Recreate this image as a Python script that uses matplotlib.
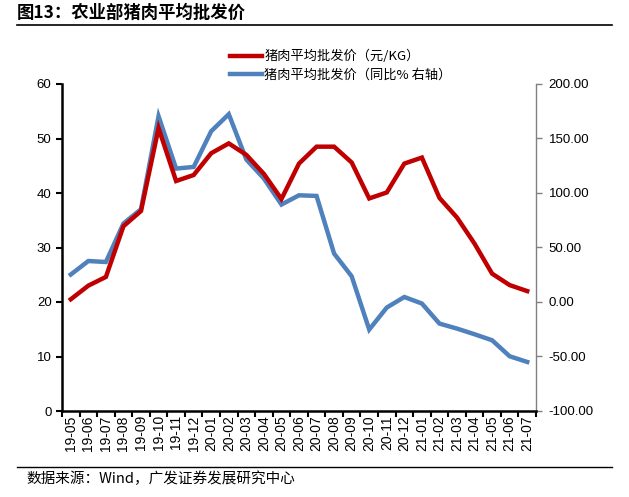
import matplotlib
matplotlib.use('Agg')
import matplotlib.pyplot as plt
from matplotlib.lines import Line2D

plt.rcParams['font.family'] = ['Liberation Sans', 'Noto Sans CJK SC', 'DejaVu Sans']

# ── Data ────────────────────────────────────────────────────────────────────
months = ['19-05', '19-06', '19-07', '19-08', '19-09', '19-10', '19-11', '19-12',
          '20-01', '20-02', '20-03', '20-04', '20-05', '20-06', '20-07', '20-08',
          '20-09', '20-10', '20-11', '20-12', '21-01', '21-02', '21-03', '21-04',
          '21-05', '21-06', '21-07']
price = [20.5, 23.0, 24.6, 33.9, 36.7, 51.9, 42.2, 43.3, 47.3, 49.1, 47.0, 43.5,
         38.9, 45.4, 48.5, 48.5, 45.6, 39.0, 40.1, 45.4, 46.5, 39.1, 35.5, 30.7,
         25.2, 23.1, 22.0]
yoy = [25.2, 37.6, 36.7, 72.0, 85.1, 170.4, 122.4, 123.9, 156.7, 172.3, 130.7,
       113.3, 89.4, 97.9, 97.3, 44.4, 23.6, -25.3, -5.1, 4.6, -1.4, -19.8, -24.4,
       -29.6, -35.1, -49.8, -55.0]

RED = '#C00000'
BLUE = '#4F81BD'

fig = plt.figure(figsize=(6.29, 4.97), dpi=100)
ax1 = fig.add_axes([62 / 629, 86 / 497, 474 / 629, 327 / 497])
ax2 = ax1.twinx()

x = list(range(len(months)))
ax2.plot(x, yoy, color=BLUE, linewidth=3.2, solid_joinstyle='miter', zorder=2)
ax1.plot(x, price, color=RED, linewidth=3.2, solid_joinstyle='miter', zorder=3)
ax1.set_zorder(ax2.get_zorder() + 1)
ax1.patch.set_visible(False)

# left axis
ax1.set_ylim(0, 60)
ax1.set_yticks(range(0, 61, 10))
ax1.set_xlim(-0.5, len(months) - 0.5)
ax1.set_xticks([i - 0.5 for i in range(len(months) + 1)])
ax1.set_xticklabels([])
ax1.set_xticks(x, minor=True)
ax1.set_xticklabels(months, minor=True, rotation=90, fontsize=10)
ax1.tick_params(axis='x', which='major', length=4, width=1.5, direction='out')
ax1.tick_params(axis='x', which='minor', length=0, pad=3)
ax1.tick_params(axis='y', length=4, width=1.5, direction='out', labelsize=9.5)
for s in ['left', 'bottom']:
    ax1.spines[s].set_linewidth(1.8)
    ax1.spines[s].set_color('black')
ax1.spines['top'].set_visible(False)
ax1.spines['right'].set_visible(False)

# right axis
ax2.set_ylim(-100, 200)
ax2.set_yticks(range(-100, 201, 50))
ax2.set_yticklabels([f'{v:.2f}' for v in range(-100, 201, 50)])
ax2.tick_params(axis='y', length=4, width=1.0, color='#808080', labelsize=9.5, pad=5)
ax2.spines['right'].set_color('#808080')
ax2.spines['right'].set_linewidth(1.0)
for s in ['top', 'left', 'bottom']:
    ax2.spines[s].set_visible(False)

# legend
handles = [Line2D([], [], color=RED, linewidth=3.2),
           Line2D([], [], color=BLUE, linewidth=3.2)]
labels = ['猪肉平均批发价（元/KG）', '猪肉平均批发价（同比% 右轴）']
fig.legend(handles, labels, loc='upper left', bbox_to_anchor=(218 / 629, 1 - 38 / 497),
           frameon=False, handlelength=2.4, handletextpad=0.2,
           labelspacing=0.45, prop={'family': ['Noto Sans CJK SC'], 'size': 9.5})

# title and source
fig.text(17 / 629, 1 - 13 / 497, '图13：农业部猪肉平均批发价', fontsize=12.5, fontweight='bold',
         va='center', ha='left', family=['Noto Sans CJK SC'])
fig.add_artist(Line2D([17 / 629, 612 / 629], [1 - 25 / 497, 1 - 25 / 497],
                      color='black', linewidth=1.2))
fig.add_artist(Line2D([17 / 629, 612 / 629], [1 - 467 / 497, 1 - 467 / 497],
                      color='black', linewidth=1.0))
fig.text(26 / 629, 1 - 479 / 497, '数据来源：Wind，广发证券发展研究中心', fontsize=10.5,
         va='center', ha='left', family=['Noto Sans CJK SC'])

fig.savefig('out.png', dpi=100, facecolor='white')
